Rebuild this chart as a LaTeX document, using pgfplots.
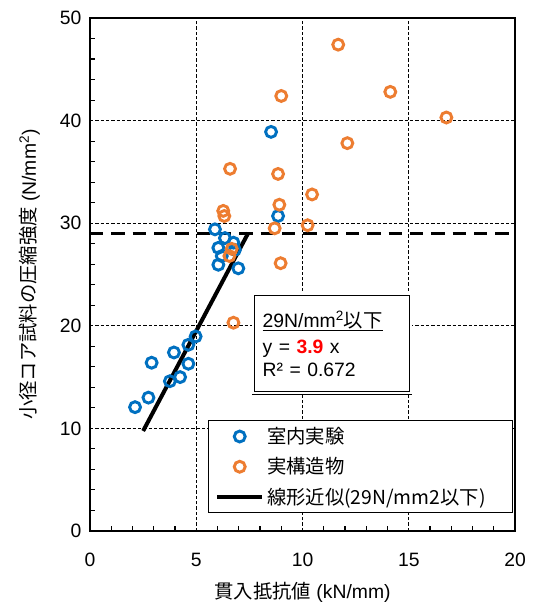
\documentclass[border=0pt]{standalone}
\usepackage{fontspec}
\setmainfont{Liberation Sans}
\newfontfamily\jp{Noto Sans CJK JP}
\usepackage{pgfplots}
\pgfplotsset{compat=1.18}
\definecolor{sblue}{RGB}{0,112,192}
\definecolor{sorange}{RGB}{237,125,49}
\newcommand\f{\fontsize{14.5}{17}\selectfont}

\begin{document}
\begin{tikzpicture}
\begin{axis}[
  scale only axis,
  width=318.75pt, height=384.75pt,
  xmin=0, xmax=20, ymin=0, ymax=50,
  xtick={0,5,...,20}, ytick={0,10,...,50},
  minor x tick num=4, minor y tick num=4,
  tick pos=left, tick align=inside,
  major tick length=0pt, minor tick length=4pt,
  grid=major,
  major grid style={black, line width=0.7pt, dash pattern=on 2.5pt off 1.5pt},
  axis line style={line width=1pt},
  every tick/.style={black, line width=0.8pt},
  /pgf/number format/assume math mode=true,
  tick label style={font=\f},
  xticklabel style={yshift=-13pt},
  yticklabel style={xshift=-3pt},
  xlabel={{\jp 貫入抵抗値} (kN/mm)},
  ylabel={{\jp 小径コア試料の圧縮強度} (N/mm\textsuperscript{2})},
  ylabel shift=8pt,
  xlabel style={yshift=-5pt},
  label style={font=\f},
  legend style={at={(0.995,0.216)}, anchor=north east, font=\jp\f,
    draw=black, line width=0.8pt, inner xsep=5pt, inner ysep=3pt,
    row sep=5pt},
  legend cell align=left,
  legend image code/.code={\draw[mark repeat=2,mark phase=2,#1]
    plot coordinates {(0pt,0pt)(17pt,0pt)(34pt,0pt)};},
]

% laboratory tests
\addplot[only marks, mark=o, mark size=4.1pt, line width=2.2pt, sblue] coordinates {
  (2.12,12.07) (2.75,13.0) (2.90,16.4) (3.76,14.6) (3.95,17.4)
  (4.24,15.0) (4.63,16.3) (4.63,18.15) (4.97,18.96)
  (5.88,29.4) (6.35,28.55) (6.75,28.1) (6.04,27.6) (6.82,27.4)
  (6.20,26.8) (6.04,25.95) (6.98,25.6)
  (8.52,38.9) (8.85,30.7)
};
\addlegendentry{室内実験}

% real structures
\addplot[only marks, mark=o, mark size=4.1pt, line width=2.2pt, sorange] coordinates {
  (11.68,47.4) (9.00,42.4) (14.13,42.8) (16.77,40.3) (12.11,37.8)
  (8.85,34.8) (6.59,35.3) (10.45,32.8) (8.91,31.8) (6.27,31.2)
  (6.32,30.7) (8.69,29.5) (10.24,29.8) (8.97,26.1)
  (6.67,27.5) (6.56,26.8) (6.75,20.3)
};
\addlegendentry{実構造物}

% linear fit, y = 3.9x
\addplot[black, line width=3pt] coordinates {(2.5,9.75) (7.45,29.06)};
\addlegendentry{線形近似(29N/mm2以下)\hspace*{13pt}}

% 29 N/mm2 threshold
\addplot[black, line width=2.2pt, dash pattern=on 10pt off 6pt, forget plot]
  coordinates {(0,29) (20,29)};

\node[draw=black, double=white, line width=0.6pt, double distance=1.4pt,
  fill=white, anchor=north west, minimum width=118pt, minimum height=74pt,
  text width=104pt, align=left, font=\f, inner xsep=6pt]
  at (axis cs:7.67,23.1)
  {\underline{29N/mm\textsuperscript{2}{\jp 以下}}\\[3pt]
   y = \textcolor{red}{\textbf{3.9}} x\\
   R² = 0.672};

\end{axis}
\pgfresetboundingbox
\path (current axis.south west) ++(-67.5pt,-56.25pt)
  rectangle ([shift={(12.75pt,13.5pt)}]current axis.north east);
\end{tikzpicture}
\end{document}
